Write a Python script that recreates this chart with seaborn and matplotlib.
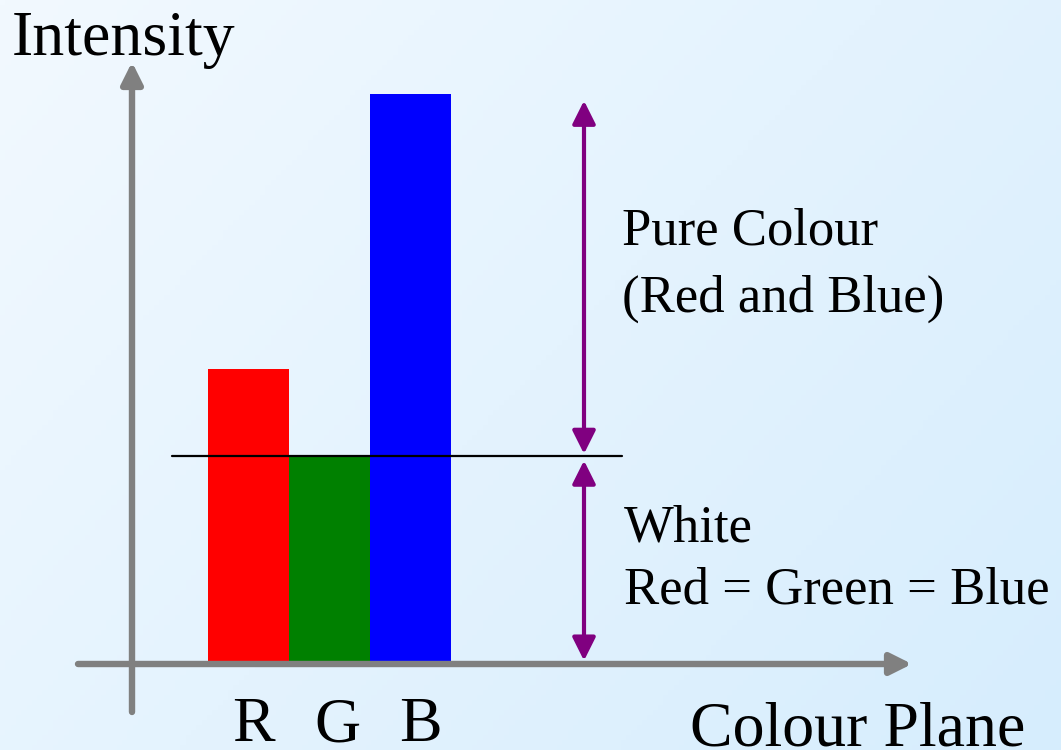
import numpy as np
import pandas as pd
import matplotlib
matplotlib.use("Agg")
import matplotlib.pyplot as plt
import seaborn as sns

# bar data (intensity on a 0-255 scale)
planes = ["R", "G", "B"]
intensity = [132, 93, 255]
bar_colors = ["#ff0000", "#008000", "#0000ff"]

sns.set_style("white")
plt.rcParams["font.family"] = ["Liberation Serif", "DejaVu Serif"]
plt.rcParams["text.color"] = "black"

W, H = 1061, 750
fig = plt.figure(figsize=(W / 100, H / 100), dpi=100)

# gradient background
bg = fig.add_axes([0, 0, 1, 1])
gx, gy = np.meshgrid(np.linspace(0, 1, 200), np.linspace(0, 1, 150))
t = (gx * 0.6 + gy * 0.4)
c0 = np.array([242, 249, 255]) / 255
c1 = np.array([214, 237, 253]) / 255
img = c0[None, None, :] * (1 - t[..., None]) + c1[None, None, :] * t[..., None]
bg.imshow(img, extent=[0, 1, 0, 1], aspect="auto", origin="upper")
bg.axis("off")

# main axes: mapped so the bars land where the reference puts them
ax = fig.add_axes([0, 0, 1, 1])
ax.patch.set_alpha(0)
px_per_cat = 81.0
x0_px = 249.0          # pixel centre of the first bar
base_px = 664.0        # pixel of intensity 0 (from top)
px_per_unit = (base_px - 94.0) / max(intensity)

df = pd.DataFrame({"plane": planes, "intensity": intensity})
sns.barplot(data=df, x="plane", y="intensity", hue="plane", palette=bar_colors,
            width=1.0, saturation=1, legend=False, ax=ax, zorder=2,
            edgecolor="none", linewidth=0)

ax.set_xlim(-x0_px / px_per_cat, (W - x0_px) / px_per_cat)
ax.set_ylim(-(H - base_px) / px_per_unit, base_px / px_per_unit)
ax.axis("off")

def dx(p):
    return (p - x0_px) / px_per_cat

def dy(p):
    return (base_px - p) / px_per_unit

gray = "#808080"
# axes arrows
ax.annotate("", xy=(dx(912), 0), xytext=(dx(78), 0),
            arrowprops=dict(arrowstyle="-|>,head_length=0.8,head_width=0.4",
                            color=gray, lw=4.6, mutation_scale=16, shrinkA=0, shrinkB=0),
            zorder=4)
ax.annotate("", xy=(dx(132), dy(62)), xytext=(dx(132), dy(712)),
            arrowprops=dict(arrowstyle="-|>,head_length=0.8,head_width=0.4",
                            color=gray, lw=4.6, mutation_scale=16, shrinkA=0, shrinkB=0),
            zorder=4)

# white level line at the green value
white_level = min(intensity)
ax.plot([dx(172), dx(622)], [white_level, white_level], color="black", lw=1.6, zorder=5)

# purple double arrows
purple = "#800080"
ax_x = dx(584)
arrow_kw = dict(arrowstyle="<|-|>,head_length=0.7,head_width=0.35",
                color=purple, lw=3.0, mutation_scale=20, shrinkA=0, shrinkB=0)
ax.annotate("", xy=(ax_x, max(intensity) - 3), xytext=(ax_x, white_level + 1),
            arrowprops=arrow_kw, zorder=5)
ax.annotate("", xy=(ax_x, white_level - 2), xytext=(ax_x, 1.5),
            arrowprops=arrow_kw, zorder=5)

# labels
big = 46
mid = 38
ax.text(dx(12), dy(55), "Intensity", fontsize=big, va="baseline", ha="left")
ax.text(dx(690), dy(746), "Colour Plane", fontsize=big, va="baseline", ha="left")
for i, p in enumerate(planes):
    ax.text(i + 0.06 + 0.03 * i, dy(741), p, fontsize=big, va="baseline", ha="center")

ax.text(dx(622), dy(245), "Pure Colour", fontsize=mid, va="baseline", ha="left")
ax.text(dx(622), dy(312), "(Red and Blue)", fontsize=mid, va="baseline", ha="left")
ax.text(dx(624), dy(542), "White", fontsize=mid, va="baseline", ha="left")
ax.text(dx(624), dy(603), "Red = Green = Blue", fontsize=mid, va="baseline", ha="left")

fig.savefig("out.png", dpi=100)
